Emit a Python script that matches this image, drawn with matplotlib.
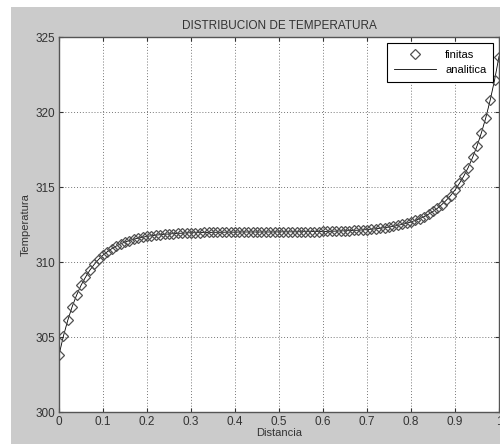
import numpy as np
import matplotlib
matplotlib.use("Agg")
import matplotlib.pyplot as plt
from matplotlib.patches import Rectangle

plt.rcParams['font.family'] = ['Liberation Sans', 'DejaVu Sans']

# distance grid (101 nodes, 0..1)
distancia = np.linspace(0.0, 1.0, 101)

# temperatures
temperatura = [
    303.80, 305.06, 306.12, 307.03, 307.79, 308.44, 308.98, 309.45, 309.84, 310.17,
    310.45, 310.69, 310.89, 311.06, 311.21, 311.33, 311.43, 311.52, 311.59, 311.65,
    311.71, 311.75, 311.79, 311.82, 311.85, 311.87, 311.89, 311.91, 311.92, 311.94,
    311.95, 311.95, 311.96, 311.97, 311.97, 311.98, 311.98, 311.98, 311.99, 311.99,
    311.99, 312.00, 312.00, 312.00, 312.00, 312.00, 312.00, 312.00, 312.00, 312.00,
    312.01, 312.01, 312.01, 312.01, 312.01, 312.02, 312.02, 312.02, 312.03, 312.03,
    312.04, 312.04, 312.05, 312.06, 312.07, 312.08, 312.09, 312.11, 312.12, 312.14,
    312.16, 312.19, 312.21, 312.25, 312.29, 312.33, 312.38, 312.44, 312.51, 312.58,
    312.67, 312.78, 312.89, 313.03, 313.19, 313.37, 313.58, 313.83, 314.11, 314.43,
    314.80, 315.24, 315.73, 316.30, 316.97, 317.73, 318.61, 319.62, 320.79, 322.14,
    323.70,
]

xticks = [0, 0.1, 0.2, 0.3, 0.4, 0.5, 0.6, 0.7, 0.8, 0.9, 1]
xticklabels = ['0', '0.1', '0.2', '0.3', '0.4', '0.5', '0.6', '0.7', '0.8', '0.9', '1']
yticks = [300, 305, 310, 315, 320, 325]

W, H = 500, 444
fig = plt.figure(figsize=(W / 100, H / 100), dpi=100)
fig.patch.set_facecolor('white')
fig.add_artist(Rectangle((11 / W, 0), 1, 1 - 7 / H, transform=fig.transFigure,
                         facecolor='#cbcbcb', edgecolor='none', zorder=0))

ax = fig.add_axes([59 / W, 32 / H, 440 / W, 375 / H])
ax.set_facecolor('white')

ax.plot(distancia, temperatura, linestyle='none', marker='D', markersize=4.6,
        markerfacecolor='none', markeredgecolor='#505050', markeredgewidth=0.9,
        label='finitas', zorder=3)
ax.plot(distancia, temperatura, color='black', linewidth=0.6, label='analitica', zorder=2)

ax.set_xlim(0, 1)
ax.set_ylim(300, 325)
ax.set_xticks(xticks)
ax.set_xticklabels(xticklabels)
ax.set_yticks(yticks)
ax.grid(True, linestyle=(0, (1, 2)), color='#777777', linewidth=0.7)
ax.tick_params(direction='in', length=3, labelsize=8.5, colors='#333333',
               top=True, right=True, pad=3)
for s in ax.spines.values():
    s.set_color('#555555')
    s.set_linewidth(1.0)

ax.set_title('DISTRIBUCION DE TEMPERATURA', fontsize=8.5, color='#333333', pad=6)
ax.set_xlabel('Distancia', fontsize=8, color='#333333', labelpad=0)
ax.set_ylabel('Temperatura', fontsize=8, color='#333333', labelpad=3)

leg = ax.legend(loc='upper right', bbox_to_anchor=(493 / W, 1 - 43 / H),
                bbox_transform=fig.transFigure, borderaxespad=0, fancybox=False,
                framealpha=1, edgecolor='black', fontsize=8, handlelength=3.8,
                borderpad=0.6, labelspacing=0.5)
leg.get_frame().set_linewidth(0.8)

fig.savefig('out.png', dpi=100, facecolor=fig.get_facecolor())
